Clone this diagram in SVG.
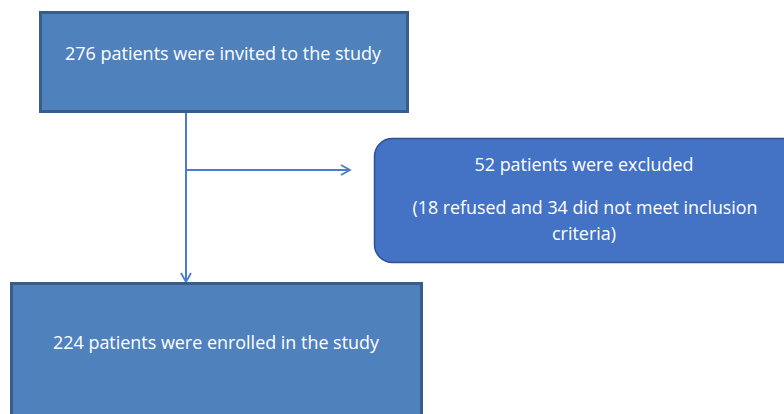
<svg xmlns="http://www.w3.org/2000/svg" width="784" height="414" viewBox="0 0 784 414">
<defs>
<style>
.box{fill:#4F81BD;stroke:#385D8A;stroke-width:3}
.rbox{fill:#4472C4;stroke:#2F528F;stroke-width:1.5}
.t{font-family:"Open Sans","Liberation Sans",sans-serif;font-size:18px;fill:#FFFFFF;text-anchor:middle}
.c{stroke:#4A7EC8;stroke-width:2;fill:none}
</style>
<marker id="arr" markerWidth="12" markerHeight="12" refX="10" refY="6" orient="auto" markerUnits="userSpaceOnUse">
<path d="M1,1 L10,6 L1,11" fill="none" stroke="#4A7EC8" stroke-width="1.8"/>
</marker>
</defs>
<rect width="784" height="414" fill="#FFFFFF"/>
<g id="connectors">
<line class="c" x1="186" y1="113" x2="186" y2="282" marker-end="url(#arr)"/>
<line class="c" x1="186" y1="170" x2="350" y2="170" marker-end="url(#arr)"/>
</g>
<g id="invited">
<rect class="box" x="40.5" y="12.5" width="367" height="99"/>
<text class="t" x="223" y="60" textLength="316" lengthAdjust="spacingAndGlyphs">276 patients were invited to the study</text>
</g>
<g id="excluded">
<rect class="rbox" x="374.5" y="138.5" width="430" height="124" rx="18"/>
<text class="t" x="584" y="171" textLength="219" lengthAdjust="spacingAndGlyphs">52 patients were excluded</text>
<text class="t" x="585" y="214" textLength="345" lengthAdjust="spacingAndGlyphs">(18 refused and 34 did not meet inclusion</text>
<text class="t" x="584" y="240" textLength="64" lengthAdjust="spacingAndGlyphs">criteria)</text>
</g>
<g id="enrolled">
<rect class="box" x="11.5" y="283.5" width="410" height="140"/>
<text class="t" x="216" y="349" textLength="326" lengthAdjust="spacingAndGlyphs">224 patients were enrolled in the study</text>
</g>
</svg>
